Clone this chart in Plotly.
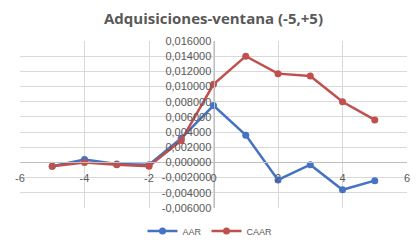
import plotly.graph_objects as go

days = [-5, -4, -3, -2, -1, 0, 1, 2, 3, 4, 5]
aar = [-0.0005, 0.0004, -0.0002, -0.0003, 0.0032, 0.0075, 0.0036, -0.0023, -0.0003, -0.0036, -0.0024]
caar = [-0.0005, 0.0000, -0.0003, -0.0005, 0.0029, 0.0103, 0.0140, 0.0117, 0.0114, 0.0080, 0.0056]

x_ticks = [-6, -4, -2, 0, 2, 4, 6]
y_ticks = [-0.006, -0.004, -0.002, 0.0, 0.002, 0.004, 0.006, 0.008, 0.010, 0.012, 0.014, 0.016]
y_tick_text = ["-0,006000", "-0,004000", "-0,002000", "0,000000", "0,002000", "0,004000",
               "0,006000", "0,008000", "0,010000", "0,012000", "0,014000", "0,016000"]

fig = go.Figure()
fig.add_trace(go.Scatter(x=days, y=aar, name="AAR", mode="lines+markers",
                         line=dict(color="#4472C4", width=2.5),
                         marker=dict(symbol="circle", size=7, color="#4472C4")))
fig.add_trace(go.Scatter(x=days, y=caar, name="CAAR", mode="lines+markers",
                         line=dict(color="#C0504D", width=2.5),
                         marker=dict(symbol="circle", size=7, color="#C0504D")))

tick_font = dict(family="Liberation Sans, Arial, sans-serif", size=11, color="#595959")

fig.update_layout(
    width=420, height=243,
    margin=dict(l=20, r=13, t=41, b=35, autoexpand=False),
    paper_bgcolor="white", plot_bgcolor="white",
    title=dict(text="<b>Adquisiciones-ventana (-5,+5)</b>", x=0.5, xanchor="center",
               xref="paper", yref="container",
               y=1 - 19 / 243, yanchor="middle",
               font=dict(family="Open Sans, Liberation Sans, sans-serif", size=15, color="#595959")),
    xaxis=dict(range=[-6, 6], tickvals=x_ticks, ticktext=[str(v) for v in x_ticks],
               showgrid=True, gridcolor="#d9d9d9", gridwidth=1, zeroline=False,
               showline=True, linecolor="#bfbfbf", linewidth=1,
               anchor="free", position=6 / 22, ticks="outside", ticklen=5,
               tickcolor="rgba(0,0,0,0)", tickfont=tick_font, automargin=False),
    yaxis=dict(range=[-0.006, 0.016], tickvals=y_ticks, ticktext=y_tick_text,
               showgrid=True, gridcolor="#d9d9d9", gridwidth=1, zeroline=False,
               showline=True, linecolor="#bfbfbf", linewidth=1,
               anchor="free", position=0.5, ticks="", tickfont=tick_font, automargin=False),
    legend=dict(orientation="h", x=0.5, xanchor="center", xref="container",
                yref="container", y=1 - 231 / 243, yanchor="middle",
                font=dict(family="Liberation Sans, Arial, sans-serif", size=9, color="#595959"),
                itemwidth=30, bgcolor="rgba(0,0,0,0)"),
    showlegend=True,
)

fig.write_html("out.html", config={"displayModeBar": False},
               post_script="document.body.style.margin='0';document.body.style.overflow='hidden';")
